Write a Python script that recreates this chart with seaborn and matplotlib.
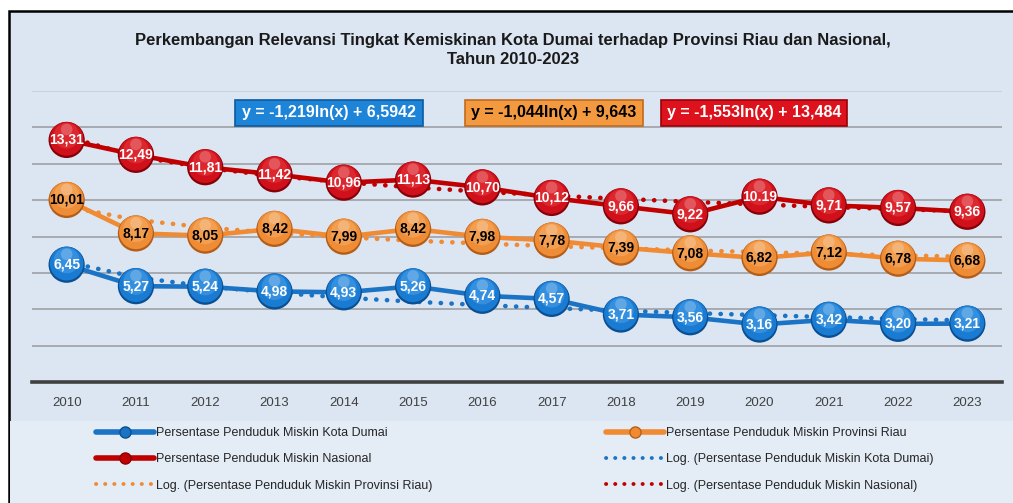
import numpy as np
import pandas as pd
import matplotlib
matplotlib.use("Agg")
import matplotlib.pyplot as plt
import matplotlib.patches as mpatches
from matplotlib.lines import Line2D
from matplotlib.transforms import offset_copy
import matplotlib.font_manager as fm
import seaborn as sns

# --- Data ---
years = [2010, 2011, 2012, 2013, 2014, 2015, 2016, 2017, 2018, 2019, 2020, 2021, 2022, 2023]
dumai = [6.45, 5.27, 5.24, 4.98, 4.93, 5.26, 4.74, 4.57, 3.71, 3.56, 3.16, 3.42, 3.20, 3.21]
riau = [10.01, 8.17, 8.05, 8.42, 7.99, 8.42, 7.98, 7.78, 7.39, 7.08, 6.82, 7.12, 6.78, 6.68]
nasional = [13.31, 12.49, 11.81, 11.42, 10.96, 11.13, 10.70, 10.12, 9.66, 9.22, 10.19, 9.71, 9.57, 9.36]

title = ("Perkembangan Relevansi Tingkat Kemiskinan Kota Dumai terhadap Provinsi Riau dan Nasional,\n"
         "Tahun 2010-2023")
eq_texts = ["y = -1,219ln(x) + 6,5942", "y = -1,044ln(x) + 9,643", "y = -1,553ln(x) + 13,484"]
series_names = ["Persentase Penduduk Miskin Kota Dumai",
                "Persentase Penduduk Miskin Provinsi Riau",
                "Persentase Penduduk Miskin Nasional"]

df = pd.DataFrame({"year": years, "dumai": dumai, "riau": riau, "nasional": nasional})

# --- Fonts ---
sns.set_style("white")
plt.rcParams["font.family"] = ["Liberation Sans", "DejaVu Sans"]

W, H = 1013, 503
fig = plt.figure(figsize=(W / 100, H / 100), dpi=100)
fig.patch.set_facecolor("white")

# chart frame and legend band
fig.add_artist(mpatches.Rectangle((9 / W, -0.05), 1.2, 1 - 11 / H + 0.05, transform=fig.transFigure,
                                  fc="#dce6f2", ec="black", lw=1.8, zorder=0))
fig.add_artist(mpatches.Rectangle((10 / W, -0.05), 1.2, 1 - 421 / H + 0.05, transform=fig.transFigure,
                                  fc="#e4ecf5", ec="none", zorder=0))

ax = fig.add_axes([32 / W, 1 - 382 / H, (1002 - 32) / W, (382 - 91) / H])
ax.set_facecolor("none")

styles = [
    # column, line color, ball base, ball dark, ball light, label color
    ("dumai", "#1a73c4", "#1a7bd2", "#0a4f92", "#4aa0e8", "white"),
    ("riau", "#f08a33", "#ef8c36", "#b45d18", "#f8b06a", "black"),
    ("nasional", "#c00000", "#d0101a", "#860008", "#e63a42", "white"),
]

t = np.arange(1, len(years) + 1)
for col, lc, base, dark, light, tc in styles:
    vals = df[col].to_numpy()
    # solid series line
    sns.lineplot(data=df, x="year", y=col, ax=ax, color=lc, linewidth=3.3, zorder=2)
    # logarithmic trend line (least squares on ln(x), like Excel)
    a, b = np.polyfit(np.log(t), vals, 1)
    trend = a * np.log(t) + b
    ax.plot(df["year"], trend, color=lc, linewidth=3.3, linestyle=(0, (0.05, 2.3)),
            dash_capstyle="round", solid_capstyle="round", zorder=3)
    # spheres
    sns.scatterplot(data=df, x="year", y=col, ax=ax, s=680, color=dark, edgecolor="none", zorder=4)
    for size, shift, c, alpha in [(590, 0.8, base, 1.0), (340, 3.0, light, 0.55),
                                  (70, 7.5, "white", 0.22)]:
        tr = offset_copy(ax.transData, fig=fig, x=0, y=shift, units="points")
        ax.scatter(df["year"], vals, s=size, color=c, alpha=alpha, edgecolor="none",
                   transform=tr, zorder=4.5)
    # data labels
    for x, v in zip(years, vals):
        txt = f"{v:.2f}".replace(".", ",")
        if col == "nasional" and x == 2020:
            txt = f"{v:.2f}"
        ax.text(x, v, txt, ha="center", va="center", fontsize=10, fontweight="bold",
                color=tc, zorder=6)

ax.set_xlim(2009.5, 2023.5)
ax.set_ylim(0, 16)
ax.set_xticks(years)
ax.set_yticks(range(0, 17, 2))
ax.set_yticklabels([])
ax.set_xlabel("")
ax.set_ylabel("")
ax.tick_params(axis="x", length=0, pad=11, labelsize=9.5, labelcolor="#404040")
ax.tick_params(axis="y", length=0)
ax.yaxis.grid(True, color="#a3a6aa", linewidth=1.3)
ax.get_ygridlines()[-1].set_color("#c9cfd6")
ax.set_axisbelow(True)
for s in ["top", "right", "left"]:
    ax.spines[s].set_visible(False)
ax.spines["bottom"].set_color("#404040")
ax.spines["bottom"].set_linewidth(2.6)
ax.spines["bottom"].set_zorder(1)

# --- Title ---
fig.text(0.5065, 1 - 50 / H, title, ha="center", va="center", fontsize=12,
         fontweight="bold", color="#1a1a1a", linespacing=1.4)

# --- Equation boxes ---
boxes = [(235, 423, "#1d84d8", "#0b5aa0", "white"),
         (465, 643, "#f39a40", "#c46a1c", "black"),
         (661, 847, "#dd121c", "#9a0008", "white")]
for (x0, x1, fc, ec, tc), txt in zip(boxes, eq_texts):
    fig.add_artist(mpatches.Rectangle((x0 / W, 1 - 126 / H), (x1 - x0) / W, 26 / H,
                                      transform=fig.transFigure, fc=fc, ec=ec, lw=1.2, zorder=5))
    fig.text((x0 + x1) / 2 / W, 1 - 113 / H, txt, ha="center", va="center", fontsize=11.5,
             fontweight="bold", color=tc, zorder=6)

# --- Legend ---
def ball_handle(color, dark, label):
    return Line2D([], [], color=color, linewidth=4, marker="o", markersize=8,
                  markerfacecolor=color, markeredgecolor=dark, label=label)

def dot_handle(color, label):
    return Line2D([], [], color=color, linewidth=2.8, linestyle=(0, (0.05, 2.3)),
                  dash_capstyle="round", label=label)

h_dumai = ball_handle("#1a73c4", "#0b4f90", series_names[0])
h_riau = ball_handle("#f08a33", "#b8601a", series_names[1])
h_nas = ball_handle("#c00000", "#8a0008", series_names[2])
t_dumai = dot_handle("#1a73c4", f"Log. ({series_names[0]})")
t_riau = dot_handle("#f08a33", f"Log. ({series_names[1]})")
t_nas = dot_handle("#c00000", f"Log. ({series_names[2]})")

leg_kw = dict(loc="upper left", frameon=False, borderpad=0, borderaxespad=0, handlelength=4.6,
              handletextpad=0.2, labelspacing=1.15,
              prop=fm.FontProperties(family=["Liberation Sans", "DejaVu Sans"], size=9))
fig.legend(handles=[h_dumai, h_nas, t_riau], bbox_to_anchor=(96 / W, 1 - 427 / H), **leg_kw)
fig.legend(handles=[h_riau, t_dumai, t_nas], bbox_to_anchor=(606 / W, 1 - 427 / H), **leg_kw)

fig.savefig("out.png", dpi=100)
